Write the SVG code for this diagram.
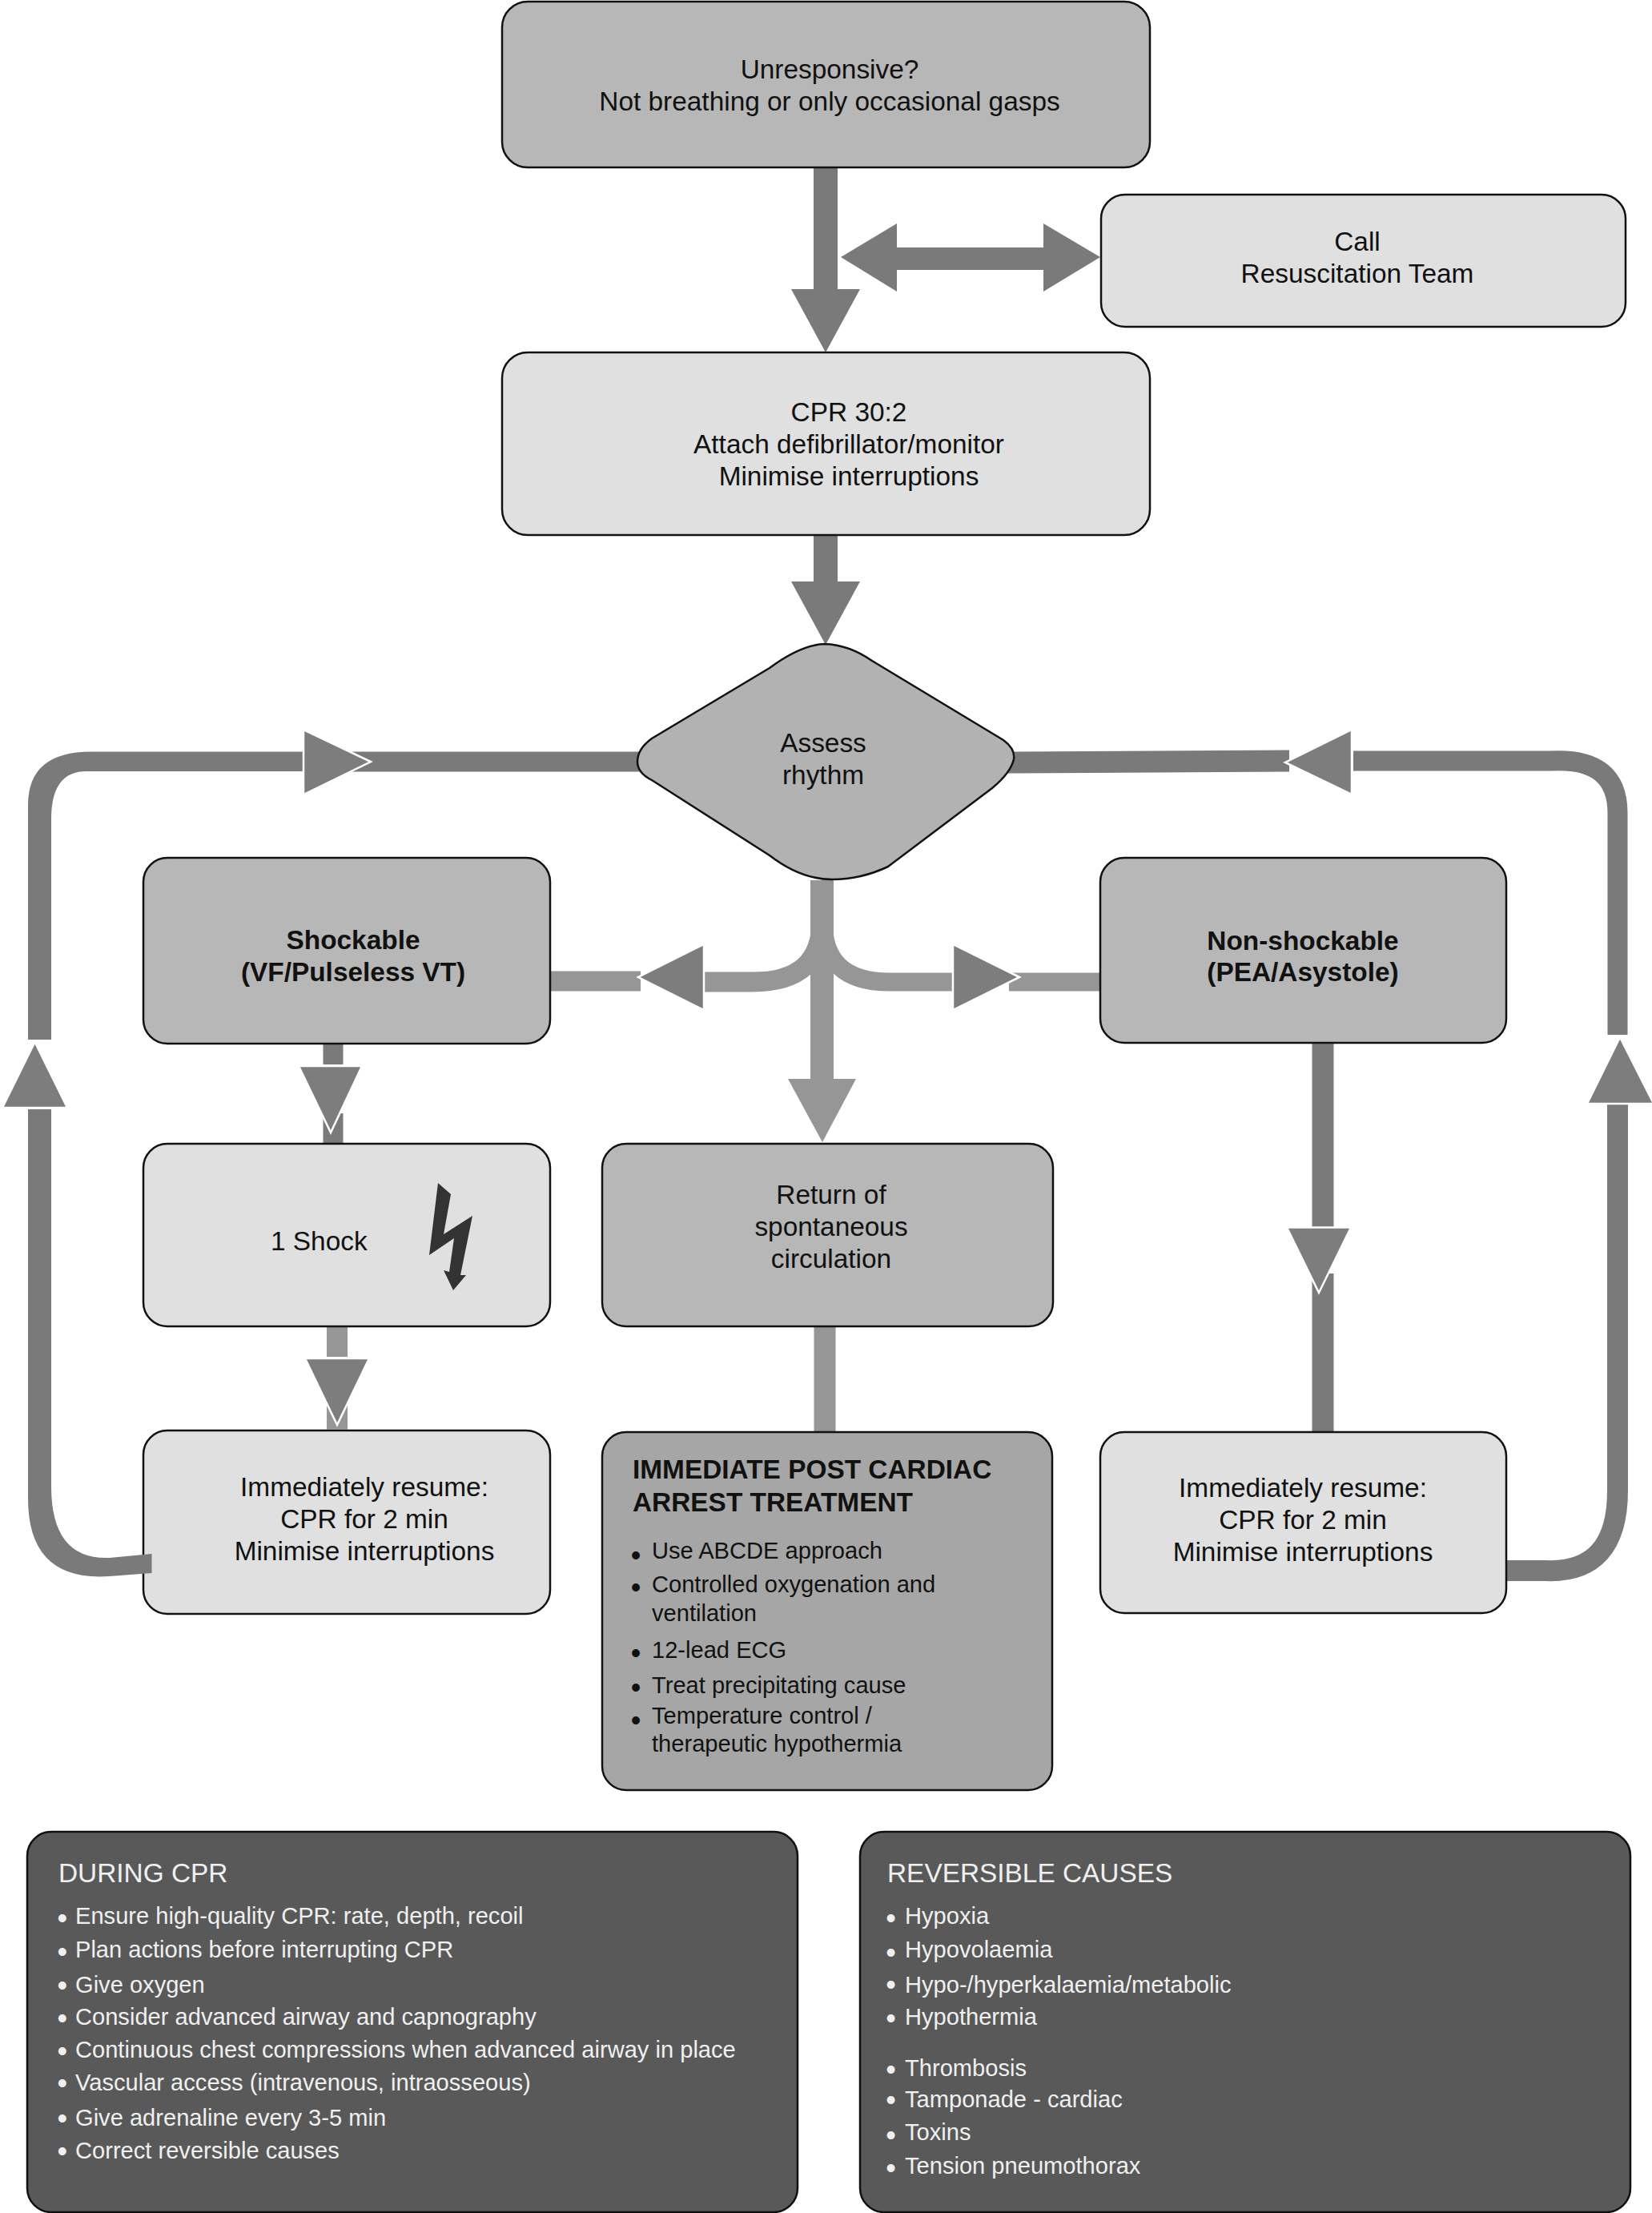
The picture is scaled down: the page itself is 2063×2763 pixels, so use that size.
<svg xmlns="http://www.w3.org/2000/svg" width="2063" height="2763" viewBox="0 0 2063 2763">
<style>
text{font-family:"Liberation Sans",Arial,sans-serif;fill:#111}
.c{text-anchor:middle;font-size:33.4px}
.b{font-weight:700}
.box{stroke:#111;stroke-width:2.5}
.mid{fill:#b7b7b7}.lt{fill:#e0e0e0}.imm{fill:#a6a6a6}.dk{fill:#595959}
.l{font-size:29.1px}
.p{font-size:36px;text-anchor:start}
.w{fill:#f0f0f0}
.t{font-size:33.4px}
.d{fill:none;stroke:#7a7a7a}
.g{fill:none;stroke:#969696}
.hd{fill:#7a7a7a}.hg{fill:#969696}
.ho{fill:#7d7d7d;stroke:#fff;stroke-width:2.5}
</style>
<rect width="2063" height="2763" fill="#fff"/>
<g id="n-resume-left"><rect class="box lt" x="179" y="1786" width="508" height="229" rx="30"/>
<text class="c" x="455" y="1868">Immediately resume:</text><text class="c" x="455" y="1908">CPR for 2 min</text><text class="c" x="455" y="1948">Minimise interruptions</text></g>
<g id="connectors">
<path class="d" stroke-width="30" d="M1031 209V370"/>
<polygon class="hd" points="988,361 1074,361 1031,440"/>
<polygon class="hd" points="1050,321 1120,279 1120,309 1303,309 1303,279 1374,321 1303,364 1303,337 1120,337 1120,364"/>
<path class="d" stroke-width="30" d="M1031 668V735"/>
<polygon class="hd" points="988,726 1074,726 1031,805"/>
<path class="d" stroke-width="25" d="M805 951H440"/>
<path fill="#7a7a7a" d="M378 938.500H115Q35 938 35 1005V1298H64V1022Q64 963 108 963H378Z"/>
<path fill="#7a7a7a" d="M35 1385V1871Q35 1975 137 1968L189.500 1964V1940L137 1945Q64 1948 64 1856V1385Z"/>
<polygon class="ho" points="379,911 379,992 463,951"/>
<polygon class="ho" points="3,1383 84,1383 43.500,1301"/>
<path class="d" stroke-width="27" d="M1255 952L1610 950"/>
<path class="d" stroke-width="25" d="M1690 950H1936Q2020 945 2020 1015V1292"/>
<path class="d" stroke-width="26" d="M2020 1379V1861Q2020 1965 1930 1961H1882"/>
<polygon class="ho" points="1688,911 1688,992 1605,952"/>
<polygon class="ho" points="1982,1378 2065,1378 2023,1295"/>
<path class="g" stroke-width="29" d="M1026.500 1099V1350"/>
<polygon class="hg" points="984,1347 1069,1347 1027,1426"/>
<path class="g" stroke-width="25" d="M687 1225H800M879 1226H940Q1026 1226 1026 1150"/>
<path class="g" stroke-width="23" d="M1028 1150Q1028 1226 1110 1226H1189M1260 1226H1373"/>
<polygon class="ho" points="879,1179 879,1261 797,1220"/>
<polygon class="ho" points="1190,1179 1190,1261 1273,1220"/>
<path class="d" stroke-width="25" d="M416 1303V1329"/>
<path class="d" stroke-width="25" d="M416 1390V1427"/>
<polygon class="ho" points="373,1331 452,1331 413,1414"/>
<path class="g" stroke-width="26" d="M421 1656V1694"/>
<path class="g" stroke-width="26" d="M421 1750V1785"/>
<polygon class="ho" points="381,1696 461,1696 421,1779"/>
<path class="g" stroke-width="27" d="M1030 1656V1787"/>
<path class="d" stroke-width="27" d="M1652 1302V1533"/>
<path class="d" stroke-width="27" d="M1652 1590V1787"/>
<polygon class="ho" points="1607,1532.500 1687,1532.500 1647,1614"/>
</g>
<g id="n-unresponsive"><rect class="box mid" x="627" y="2" width="809" height="207" rx="32"/>
<text class="c" x="1036" y="98">Unresponsive?</text><text class="c" x="1036" y="138">Not breathing or only occasional gasps</text></g>
<g id="n-call"><rect class="box lt" x="1375" y="243" width="655" height="165" rx="30"/>
<text class="c" x="1695" y="313">Call</text><text class="c" x="1695" y="353">Resuscitation Team</text></g>
<g id="n-cpr"><rect class="box lt" x="627" y="440" width="809" height="228" rx="32"/>
<text class="c" x="1060" y="526">CPR 30:2</text><text class="c" x="1060" y="566">Attach defibrillator/monitor</text><text class="c" x="1060" y="606">Minimise interruptions</text></g>
<g id="n-assess"><path class="box" fill="#b2b2b2" d="M796 951Q796 935 814 922L961 834Q1000 805 1030 804Q1060 805 1089 825L1253 924Q1268 935 1266 948Q1262 965 1239 984L1109 1082Q1075 1098 1039 1098Q1000 1098 961 1068L814 974Q796 965 796 951Z"/>
<text class="c" x="1028" y="939">Assess</text><text class="c" x="1028" y="979">rhythm</text></g>
<g id="n-shockable"><rect class="box mid" x="179" y="1071" width="508" height="232" rx="30"/>
<text class="c b" x="441" y="1185">Shockable</text><text class="c b" x="441" y="1225">(VF/Pulseless VT)</text></g>
<g id="n-nonshockable"><rect class="box mid" x="1374" y="1071" width="507" height="231" rx="30"/>
<text class="c b" x="1627" y="1186">Non-shockable</text><text class="c b" x="1627" y="1225">(PEA/Asystole)</text></g>
<g id="n-shock"><rect class="box lt" x="179" y="1428" width="508" height="228" rx="30"/>
<text class="t" x="338" y="1561">1 Shock</text>
<polygon fill="#333" points="547,1477 563,1491 554,1541 590,1518 575,1592 582,1592 566,1611 554,1586 561,1588 567,1546 536,1567"/></g>
<g id="n-rosc"><rect class="box mid" x="752" y="1428" width="563" height="228" rx="30"/>
<text class="c" x="1038" y="1503">Return of</text><text class="c" x="1038" y="1543">spontaneous</text><text class="c" x="1038" y="1583">circulation</text></g>
<g id="n-resume-right"><rect class="box lt" x="1374" y="1788" width="507" height="226" rx="30"/>
<text class="c" x="1627" y="1869">Immediately resume:</text><text class="c" x="1627" y="1909">CPR for 2 min</text><text class="c" x="1627" y="1949">Minimise interruptions</text></g>
<g id="n-post"><rect class="box imm" x="752" y="1788" width="562" height="447" rx="30"/>
<text class="t b" x="790" y="1846">IMMEDIATE POST CARDIAC</text><text class="t b" x="790" y="1887">ARREST TREATMENT</text>
<g class="l">
<text class="p" x="787.700" y="1953.700">•</text><text x="814" y="1945.500">Use ABCDE approach</text>
<text class="p" x="787.700" y="1994.300">•</text><text x="814" y="1988">Controlled oxygenation and</text>
<text x="814" y="2023.500">ventilation</text>
<text class="p" x="787.700" y="2076.300">•</text><text x="814" y="2070">12-lead ECG</text>
<text class="p" x="787.700" y="2118.800">•</text><text x="814" y="2114">Treat precipitating cause</text>
<text class="p" x="787.700" y="2160.300">•</text><text x="814" y="2151.500">Temperature control /</text>
<text x="814" y="2187">therapeutic hypothermia</text>
</g></g>
<g id="n-during"><rect class="box dk" x="34" y="2287" width="962" height="475" rx="30"/>
<text class="t w" x="73" y="2350">DURING CPR</text>
<g class="l">
<text class="p w" x="71.400" y="2406.700">•</text><text class="w" x="94" y="2402">Ensure high-quality CPR: rate, depth, recoil</text>
<text class="p w" x="71.400" y="2448.900">•</text><text class="w" x="94" y="2444">Plan actions before interrupting CPR</text>
<text class="p w" x="71.400" y="2491.300">•</text><text class="w" x="94" y="2487.500">Give oxygen</text>
<text class="p w" x="71.400" y="2532.300">•</text><text class="w" x="94" y="2528">Consider advanced airway and capnography</text>
<text class="p w" x="71.400" y="2573.300">•</text><text class="w" x="94" y="2569">Continuous chest compressions when advanced airway in place</text>
<text class="p w" x="71.400" y="2613.300">•</text><text class="w" x="94" y="2610">Vascular access (intravenous, intraosseous)</text>
<text class="p w" x="71.400" y="2656.900">•</text><text class="w" x="94" y="2654">Give adrenaline every 3-5 min</text>
<text class="p w" x="71.400" y="2698.300">•</text><text class="w" x="94" y="2695">Correct reversible causes</text>
</g></g>
<g id="n-reversible"><rect class="box dk" x="1074" y="2287" width="962" height="475" rx="30"/>
<text class="t w" x="1108" y="2350">REVERSIBLE CAUSES</text>
<g class="l">
<text class="p w" x="1106.200" y="2407.300">•</text><text class="w" x="1130" y="2402">Hypoxia</text>
<text class="p w" x="1106.200" y="2450.300">•</text><text class="w" x="1130" y="2444">Hypovolaemia</text>
<text class="p w" x="1106.200" y="2489.900">•</text><text class="w" x="1130" y="2487.500">Hypo-/hyperkalaemia/metabolic</text>
<text class="p w" x="1106.200" y="2532.300">•</text><text class="w" x="1130" y="2528">Hypothermia</text>
<text class="p w" x="1106.200" y="2596.300">•</text><text class="w" x="1130" y="2592">Thrombosis</text>
<text class="p w" x="1106.200" y="2634.300">•</text><text class="w" x="1130" y="2631">Tamponade - cardiac</text>
<text class="p w" x="1106.200" y="2678.300">•</text><text class="w" x="1130" y="2672">Toxins</text>
<text class="p w" x="1106.200" y="2718.900">•</text><text class="w" x="1130" y="2714">Tension pneumothorax</text>
</g></g>
</svg>
